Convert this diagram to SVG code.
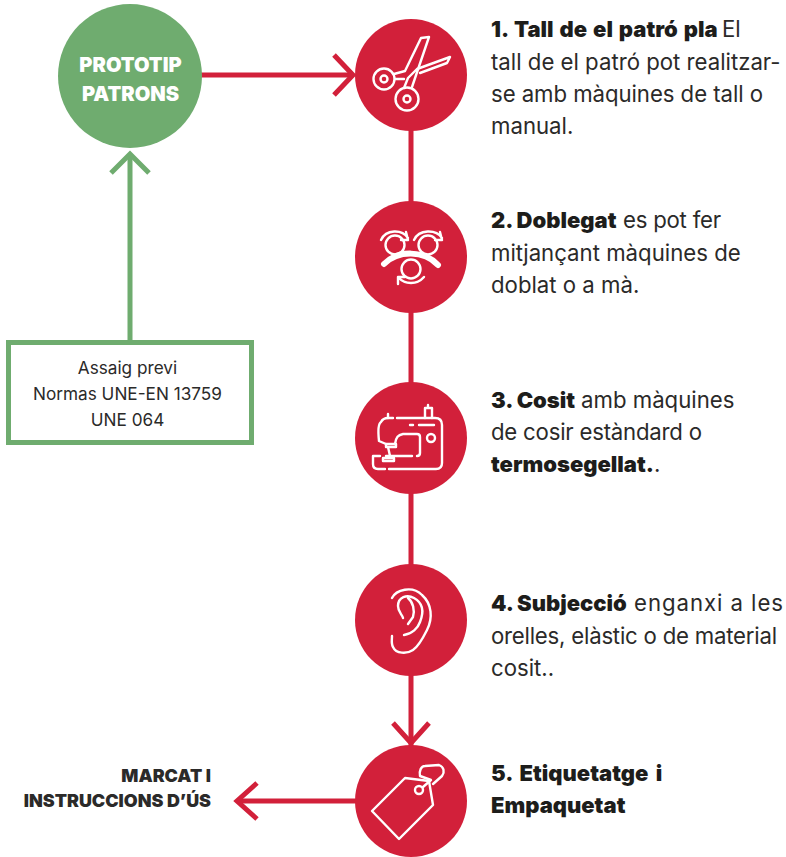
<svg xmlns="http://www.w3.org/2000/svg" width="786" height="857" viewBox="0 0 786 857">
<style>
.t{font-family:"Inter","Liberation Sans",sans-serif;font-size:22.2px;fill:#2b2a29}
.b{font-weight:900;fill:#1d1d1b;font-size:22px}
.s{font-family:"Inter","Liberation Sans",sans-serif;font-size:17.2px;fill:#2b2a29;text-anchor:middle}
.m{font-family:"Inter","Liberation Sans",sans-serif;font-size:17.9px;font-weight:900;fill:#2b2a29;text-anchor:end}
.w{font-family:"Inter","Liberation Sans",sans-serif;font-size:20.1px;font-weight:900;fill:#fff;text-anchor:middle}
.c{fill:#d2203a}
.i{fill:none;stroke:#fff;stroke-width:2.4;stroke-linecap:round;stroke-linejoin:round}
.r{fill:none;stroke:#d2203a;stroke-width:5}
.g{fill:none;stroke:#6fac6f;stroke-width:5}
</style>
<g id="connectors">
<path class="r" d="M411 120V770"/>
<path class="r" d="M200 75H352"/>
<path class="r" d="M334 55L353 75L334 95"/>
<path class="r" d="M393 723L411 743L429 723"/>
<path class="r" d="M356 801H238"/>
<path class="r" d="M257 783L237 801L257 819"/>
<path class="g" d="M130 342V155"/>
<path class="g" d="M111 173L130 154L149 173"/>
</g>
<g id="prototip">
<circle cx="130" cy="76" r="72" fill="#6fac6f"/>
<text class="w" x="130.500" y="71.500">PROTOTIP</text>
<text class="w" x="130.500" y="100.500">PATRONS</text>
</g>
<g id="assaig">
<rect x="8.500" y="342.500" width="243" height="100" fill="#fff" stroke="#6fac6f" stroke-width="5"/>
<text class="s" x="127.500" y="374">Assaig previ</text>
<text class="s" x="127.500" y="400">Normas UNE-EN 13759</text>
<text class="s" x="127.500" y="426">UNE 064</text>
</g>
<g id="step1">
<circle class="c" cx="411" cy="75" r="56"/>
<g class="i">
<circle cx="384" cy="79" r="10.500"/><circle cx="384" cy="79" r="3.500"/>
<circle cx="407" cy="99" r="11.500"/><circle cx="407" cy="99" r="3.500"/>
<path d="M394 74L405 71L421 38L429 37L412 87"/>
<path d="M404 88L408 78L417 69L450 57L447 63L420 73"/>
<path d="M395 79H404"/>
</g>
</g>
<g id="step2">
<circle class="c" cx="411" cy="257" r="56"/>
<g class="i">
<circle cx="395" cy="245" r="9.500"/><circle cx="428" cy="245" r="9.500"/><circle cx="411" cy="269" r="9.500"/>
<path d="M381 240C386 229 402 229 408 238M406 232L408 240L401 240"/>
<path d="M414 240C419 229 436 229 442 238M440 232L442 240L435 240"/>
<path d="M424 277C417 285 405 285 398 277M398 284L398 277L405 277"/>
</g>
<path d="M384 264C398 250 424 250 438 265" fill="none" stroke="#fff" stroke-width="6" stroke-linecap="round"/>
</g>
<g id="step3">
<circle class="c" cx="411" cy="438" r="56"/>
<g class="i">
<path d="M386 444L379 441C378 432 378 424 381 422Q383 418 388 418H393M397 418H435Q442 418 442 425V463Q442 469 436 469H389"/>
<path d="M385 469H378Q373 469 373 464V456H380M386 456H412"/>
<path d="M395 444C396 437 398 435 403 434H417Q420 434 420 437V453Q420 456 417 456"/>
<path d="M386 444H396V447H386ZM388 447L390 456M383 458H394V461H383Z"/>
<path d="M388 418L388 414M425 418V408H432V418M428 408V405"/>
<circle cx="431" cy="438" r="4"/>
<path d="M410 425H413M419 425H434"/>
</g>
</g>
<g id="step4">
<circle class="c" cx="411" cy="620" r="56"/>
<g class="i">
<path d="M392 598C396 590 412 585 422 595C432 604 433 618 427 630C422 640 416 648 413 650C407 654 396 654 393 647C391 644 392 640 392 636"/>
<path d="M404 635C412 634 418 628 420 622C424 612 423 603 414 598C407 594 398 597 398 606C398 612 402 614 403 618"/>
<path d="M408 598C413 602 415 610 413 617L408 624"/>
</g>
</g>
<g id="step5">
<circle class="c" cx="411" cy="801" r="56"/>
<g class="i">
<path d="M372 811L405 778L429 781L433 805L399 839Z"/>
<circle cx="419" cy="790" r="4"/>
<path d="M423 787L431 780L420 776C419 771 421 766 425 766L439 765C444 767 445 772 442 776L433 784"/>
</g>
</g>
<g id="text1">
<text class="t" x="491" y="37"><tspan class="b" style="word-spacing:1.6px">1. Tall de el patró pla</tspan><tspan x="722">El</tspan></text>
<text class="t" x="491" y="70">tall de el patró pot realitzar-</text>
<text class="t" x="491" y="102" textLength="272">se amb màquines de tall o</text>
<text class="t" x="491" y="134">manual.</text>
</g>
<g id="text2">
<text class="t" x="491" y="228"><tspan class="b">2. Doblegat</tspan><tspan x="623" textLength="98">es pot fer</tspan></text>
<text class="t" x="491" y="261">mitjançant màquines de</text>
<text class="t" x="491" y="293">doblat o a mà.</text>
</g>
<g id="text3">
<text class="t" x="491" y="408"><tspan class="b">3. Cosit</tspan><tspan x="581">amb màquines</tspan></text>
<text class="t" x="491" y="440" textLength="211">de cosir estàndard o</text>
<text class="t" x="491" y="472"><tspan class="b">termosegellat.</tspan>.</text>
</g>
<g id="text4">
<text class="t" x="491" y="611"><tspan class="b">4. Subjecció</tspan><tspan x="634" textLength="149">enganxi a les</tspan></text>
<text class="t" x="491" y="644" textLength="286">orelles, elàstic o de material</text>
<text class="t" x="491" y="676">cosit..</text>
</g>
<g id="text5">
<text class="t b" x="491" y="781" style="word-spacing:3px">5. Etiquetatge i</text>
<text class="t b" x="491" y="813">Empaquetat</text>
</g>
<g id="marcat">
<text class="m" x="211" y="782">MARCAT I</text>
<text class="m" x="211" y="807">INSTRUCCIONS D’ÚS</text>
</g>
</svg>
